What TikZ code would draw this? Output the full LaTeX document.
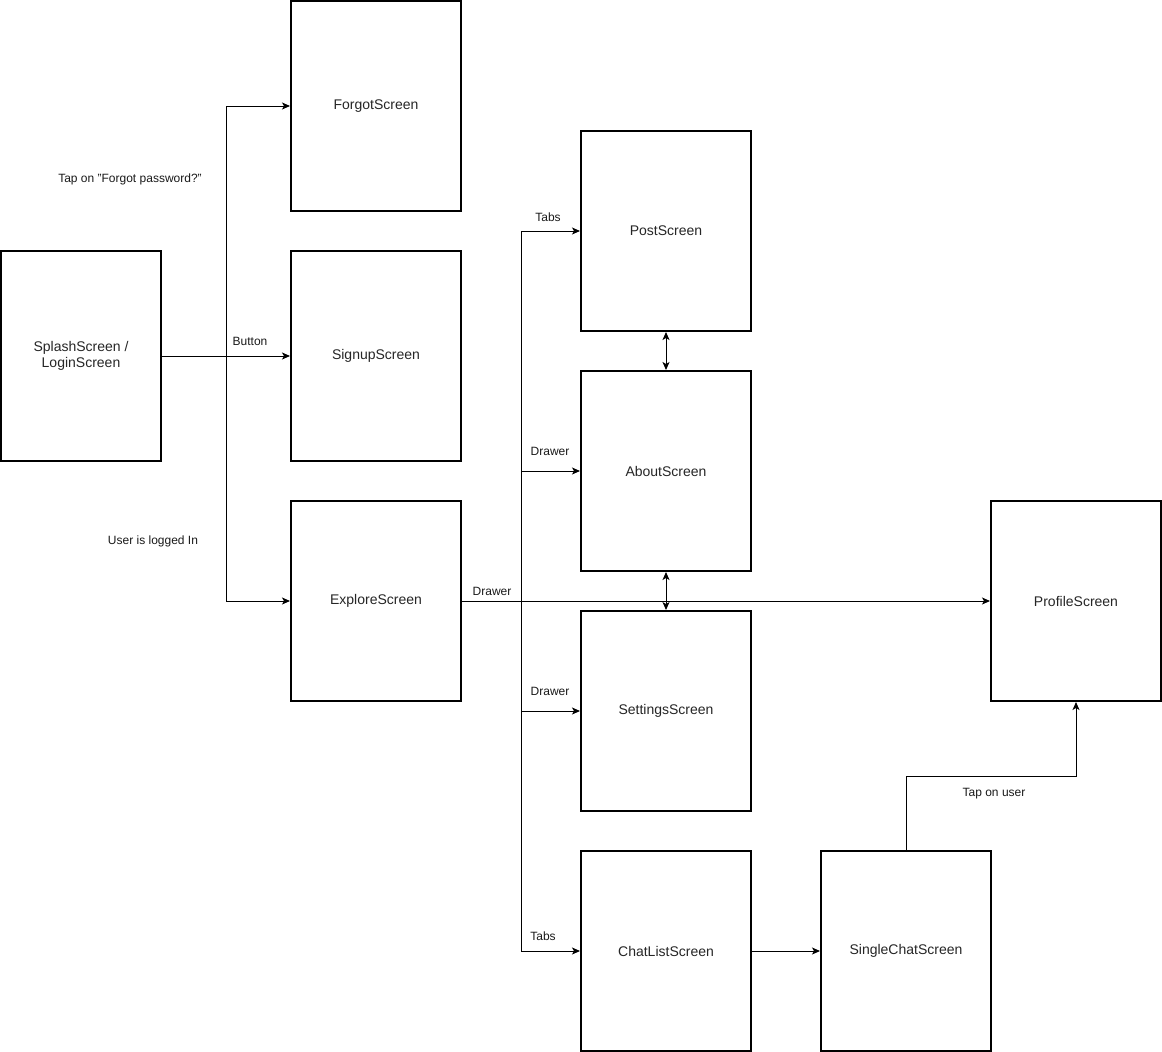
\documentclass[tikz,border=0pt]{standalone}
\usepackage{fontspec}
\setmainfont{Liberation Sans}
\usetikzlibrary{arrows.meta}
\tikzset{
  scr/.style={draw=black, line width=2pt, fill=white, inner sep=2pt, align=center,
    font=\fontsize{14}{16}\selectfont, text=black!85},
  conn/.style={line width=1pt, draw=black},
  arr/.style={conn, -{Stealth[length=8pt,width=7pt,inset=2pt]}},
  darr/.style={conn, {Stealth[length=8pt,width=7pt,inset=2pt]}-{Stealth[length=8pt,width=7pt,inset=2pt]}},
  lbl/.style={font=\fontsize{12}{14}\selectfont, inner sep=0pt, text=black!90}
}
\begin{document}
\begin{tikzpicture}[x=1pt,y=-1pt]
\useasboundingbox (0,0) rectangle (1162,1052);
% boxes
\node[scr, minimum width=160pt, minimum height=210pt] (splash) at (81,356) {SplashScreen /\\LoginScreen};
\node[scr, minimum width=170pt, minimum height=210pt] (forgot) at (376,106) {ForgotScreen};
\node[scr, minimum width=170pt, minimum height=210pt] (signup) at (376,356) {SignupScreen};
\node[scr, minimum width=170pt, minimum height=200pt] (explore) at (376,601) {ExploreScreen};
\node[scr, minimum width=170pt, minimum height=200pt] (post) at (666,231) {PostScreen};
\node[scr, minimum width=170pt, minimum height=200pt] (about) at (666,471) {AboutScreen};
\node[scr, minimum width=170pt, minimum height=200pt] (settings) at (666,711) {SettingsScreen};
\node[scr, minimum width=170pt, minimum height=200pt] (chatlist) at (666,951) {ChatListScreen};
\node[scr, minimum width=170pt, minimum height=200pt] (single) at (906,951) {SingleChatScreen};
\node[scr, minimum width=170pt, minimum height=200pt] (profile) at (1076,601) {ProfileScreen};
% junctions
\coordinate (j1) at (226,356);
\coordinate (j2) at (521,601);
\coordinate (k1) at (906,776);
% connectors
\draw[arr] (splash.east) -- (signup.west);
\draw[arr] (j1) |- (forgot.west);
\draw[arr] (j1) |- (explore.west);
\draw[arr] (explore.east) -- (profile.west);
\draw[arr] (j2) |- (post.west);
\draw[arr] (j2) |- (about.west);
\draw[arr] (j2) |- (settings.west);
\draw[arr] (j2) |- (chatlist.west);
\draw[darr] (post.south) -- (about.north);
\draw[darr] (about.south) -- (settings.north);
\draw[arr] (chatlist.east) -- (single.west);
\draw[arr] (single.north) -- (k1) -| (profile.south);
% labels
\node[lbl] (lbutton) at (250,341) {Button};
\node[lbl] (lforgot) at (130,179) {Tap on "Forgot password?"};
\node[lbl] (llogged) at (153,541) {User is logged In};
\node[lbl] (ldrawer1) at (492,591) {Drawer};
\node[lbl] (ltabs1) at (548,217) {Tabs};
\node[lbl] (ldrawer2) at (550,451) {Drawer};
\node[lbl] (ldrawer3) at (550,691) {Drawer};
\node[lbl] (ltabs2) at (543,936) {Tabs};
\node[lbl] (ltapuser) at (994,794) {Tap on user};
\end{tikzpicture}
\end{document}
